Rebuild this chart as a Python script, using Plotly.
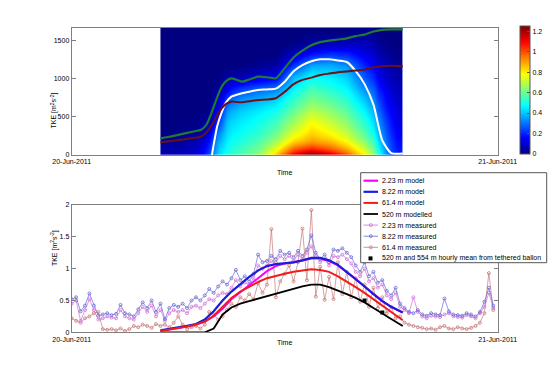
import plotly.graph_objects as go

# ---------------- data ----------------
# top panel: TKE field (time edges in hours, height edges in m)
field_t_edges = [5, 6.5, 7.5, 8, 8.5, 9, 10, 11, 12, 13, 14, 15, 16, 17, 17.5, 18, 18.65]
field_z_edges = [0, 40, 120, 220, 350, 500, 650, 800, 950, 1100, 1250, 1400, 1550, 1670]
# one column per time bin (values bottom -> top)
field_cols = [
    [0.06, 0.05, 0.03, 0.01, 0, 0, 0, 0, 0, 0, 0, 0, 0],
    [0.10, 0.09, 0.06, 0.03, 0.01, 0, 0, 0, 0, 0, 0, 0, 0],
    [0.24, 0.22, 0.18, 0.12, 0.06, 0.02, 0, 0, 0, 0, 0, 0, 0],
    [0.42, 0.40, 0.37, 0.32, 0.22, 0.14, 0.08, 0.03, 0, 0, 0, 0, 0],
    [0.50, 0.48, 0.46, 0.43, 0.40, 0.34, 0.24, 0.12, 0.04, 0, 0, 0, 0],
    [0.56, 0.54, 0.51, 0.48, 0.45, 0.41, 0.34, 0.22, 0.06, 0, 0, 0, 0],
    [0.64, 0.61, 0.57, 0.53, 0.49, 0.45, 0.38, 0.27, 0.10, 0.02, 0, 0, 0],
    [0.84, 0.76, 0.68, 0.61, 0.55, 0.49, 0.42, 0.30, 0.14, 0.04, 0, 0, 0],
    [1.10, 0.98, 0.85, 0.75, 0.67, 0.60, 0.53, 0.46, 0.38, 0.22, 0.08, 0, 0],
    [1.24, 1.06, 0.92, 0.84, 0.78, 0.70, 0.62, 0.55, 0.47, 0.36, 0.18, 0.04, 0],
    [1.14, 0.99, 0.88, 0.79, 0.72, 0.65, 0.58, 0.51, 0.45, 0.37, 0.22, 0.06, 0],
    [0.98, 0.88, 0.79, 0.71, 0.64, 0.58, 0.52, 0.46, 0.41, 0.33, 0.20, 0.07, 0],
    [0.78, 0.72, 0.65, 0.58, 0.52, 0.46, 0.40, 0.33, 0.26, 0.19, 0.13, 0.07, 0.02],
    [0.52, 0.48, 0.44, 0.39, 0.34, 0.29, 0.24, 0.19, 0.14, 0.10, 0.06, 0.03, 0],
    [0.32, 0.30, 0.28, 0.25, 0.22, 0.18, 0.15, 0.12, 0.09, 0.06, 0.03, 0.01, 0],
    [0.20, 0.18, 0.17, 0.15, 0.13, 0.11, 0.09, 0.07, 0.05, 0.03, 0.01, 0, 0],
]

line_t = [5, 5.5, 6, 6.5, 7, 7.3, 7.6, 7.9, 8.2, 8.45, 8.7, 9, 9.3, 9.6, 10, 10.5,
          11, 11.5, 12, 12.5, 13, 13.5, 14, 14.5, 15, 15.5, 16, 16.5, 17, 17.5, 18, 18.65]
green_h = [219, 240, 265, 290, 315, 330, 400, 568, 760, 896, 970, 1006, 985, 962, 990, 1027,
           1020, 1006, 1140, 1280, 1370, 1440, 1480, 1500, 1515, 1531, 1560, 1580, 1620, 1642, 1648, 1648]
darkred_h = [166, 180, 195, 210, 228, 240, 300, 394, 520, 613, 670, 700, 695, 691, 705, 722,
             728, 745, 830, 930, 985, 1015, 1050, 1068, 1085, 1095, 1108, 1120, 1150, 1165, 1172, 1160]
white_h = [None, None, None, None, None, None, None, 0, 380, 560, 690, 765, 790, 810, 830, 853,
           860, 870, 960, 1100, 1180, 1230, 1255, 1255, 1240, 1220, 1100, 930, 660, 190, 25, 20]

# bottom panel: model curves
model_t = [5, 5.5, 6, 6.5, 7, 7.5, 8, 8.5, 9, 9.5, 10, 10.5, 11, 11.5, 12, 12.5, 13, 13.5,
           14, 14.5, 15, 15.5, 16, 16.5, 17, 17.5, 18, 18.65]
model_223 = [0.02, 0.04, 0.06, 0.09, 0.12, 0.17, 0.25, 0.37, 0.52, 0.63, 0.74, 0.86, 0.96, 1.04,
             1.08, 1.10, 1.13, 1.16, 1.16, 1.12, 1.05, 0.95, 0.84, 0.72, 0.60, 0.49, 0.40, 0.31]
model_822 = [0.03, 0.05, 0.07, 0.10, 0.13, 0.20, 0.33, 0.50, 0.64, 0.76, 0.87, 0.97, 1.04, 1.07,
             1.08, 1.10, 1.13, 1.17, 1.17, 1.13, 1.06, 0.95, 0.84, 0.72, 0.60, 0.49, 0.40, 0.31]
model_614 = [0.02, 0.04, 0.06, 0.09, 0.12, 0.17, 0.26, 0.40, 0.54, 0.64, 0.72, 0.79, 0.85, 0.89,
             0.92, 0.95, 0.97, 0.99, 0.98, 0.95, 0.88, 0.80, 0.71, 0.62, 0.52, 0.42, 0.32, 0.19]
model_520 = [0, 0, 0, 0, 0, 0, 0.06, 0.28, 0.39, 0.45, 0.49, 0.53, 0.57, 0.61, 0.64, 0.68, 0.72,
             0.75, 0.75, 0.71, 0.66, 0.60, 0.54, 0.47, 0.38, 0.30, 0.21, 0.10]

# bottom panel: measurements, every 15 min from 00:00
meas_t = [i * 0.25 for i in range(96)]
meas_822 = [0.52, 0.55, 0.33, 0.42, 0.61, 0.42, 0.26, 0.28, 0.30, 0.27, 0.29, 0.43,
            0.30, 0.28, 0.25, 0.36, 0.47, 0.38, 0.50, 0.32, 0.45, 0.21, 0.38, 0.43,
            0.40, 0.45, 0.38, 0.50, 0.55, 0.50, 0.58, 0.68, 0.62, 0.72, 0.80, 0.75,
            0.85, 0.98, 0.82, 0.88, 0.80, 0.92, 1.22, 1.10, 1.12, 1.20, 1.15, 1.28,
            1.22, 1.25, 1.18, 1.28, 1.20, 1.30, 1.52, 1.25, 1.15, 1.22, 1.10, 1.30,
            1.28, 1.32, 1.25, 1.18, 1.05, 0.95, 1.10, 0.88, 0.95, 0.78, 0.82, 0.65,
            0.58, 0.70, 0.45, 0.38, 0.32, 0.30, 0.35, 0.28, 0.26, 0.30, 0.28, 0.27,
            0.53, 0.33, 0.28, 0.27, 0.26, 0.30, 0.28, 0.25, 0.32, 0.48, 0.70, 0.42]
meas_223 = [0.45, 0.50, 0.18, 0.35, 0.52, 0.35, 0.20, 0.22, 0.25, 0.23, 0.22, 0.35,
            0.25, 0.22, 0.20, 0.30, 0.40, 0.32, 0.42, 0.25, 0.35, 0.18, 0.30, 0.35,
            0.32, 0.35, 0.30, 0.40, 0.42, 0.38, 0.45, 0.52, 0.50, 0.58, 0.62, 0.60,
            0.70, 0.82, 0.72, 0.78, 0.75, 0.85, 1.05, 1.00, 1.05, 1.12, 1.10, 1.20,
            1.15, 1.20, 1.12, 1.22, 1.15, 1.25, 1.35, 1.20, 1.10, 1.15, 1.05, 1.20,
            1.18, 1.22, 1.15, 1.08, 0.95, 0.88, 1.00, 0.80, 0.85, 0.70, 0.75, 0.58,
            0.52, 0.62, 0.40, 0.35, 0.30, 0.55, 0.32, 0.25, 0.22, 0.26, 0.25, 0.24,
            0.28, 0.30, 0.25, 0.24, 0.23, 0.27, 0.25, 0.22, 0.30, 0.40, 0.62, 0.38]
meas_614 = [0.22, 0.18, 0.15, 0.22, 0.25, 0.30, 0.32, 0.05, 0.04, 0.05, 0.03, 0.06,
            0.02, 0.05, 0.10, 0.08, 0.12, 0.10, 0.07, 0.13, 0.10, 0.12, 0.08, 0.15,
            0.25, 0.12, 0.05, 0.08, 0.10, 0.06, 0.12, 0.32, 0.28, 0.20, 0.25, 0.35,
            0.45, 0.40, 0.55, 0.50, 0.60, 0.52, 0.77, 0.62, 0.75, 1.62, 0.55, 0.80,
            0.92, 1.05, 0.80, 1.10, 1.63, 0.82, 1.92, 0.56, 1.03, 0.51, 0.87, 0.52,
            1.10, 0.60, 0.95, 0.55, 0.85, 0.48, 0.75, 0.40, 0.70, 0.38, 0.55, 0.30,
            0.40, 0.22, 0.25, 0.15, 0.12, 0.10, 0.08, 0.07, 0.05, 0.06, 0.04, 0.08,
            0.10, 0.06, 0.05, 0.08, 0.06, 0.05, 0.07, 0.10, 0.15, 0.30, 0.93, 0.35]

balloon_t = [16.5, 17.5]
balloon_v = [0.50, 0.31]

day_ticks = [0, 24]
day_labels = ["20-Jun-2011", "21-Jun-2011"]

legend_names = ["2.23 m model", "8.22 m model", "61.4 m model", "520 m modelled",
                "2.23 m measured", "8.22 m measured", "61.4 m measured",
                "520 m and 554 m hourly mean from tethered ballon"]

# ---------------- styles ----------------
C_M223, C_M822, C_M614, C_M520 = "#ff00ff", "#1c1cdd", "#ee1c1c", "black"
C_O223, C_O822, C_O614 = "#d070d8", "#6a6ad0", "#c87878"
FONT = 7
W, H = 550, 373

jet = [[0, "rgb(0,0,128)"], [0.125, "rgb(0,0,255)"], [0.375, "rgb(0,255,255)"],
       [0.625, "rgb(255,255,0)"], [0.875, "rgb(255,0,0)"], [1, "rgb(128,0,0)"]]

z = [[field_cols[c][r] for c in range(len(field_cols))] for r in range(len(field_z_edges) - 1)]

fig = go.Figure()
fig.add_trace(go.Heatmap(
    x=field_t_edges, y=field_z_edges, z=z, zmin=0, zmax=1.25, zsmooth="best",
    colorscale=jet, xaxis="x", yaxis="y", showlegend=False, hoverinfo="skip",
    colorbar=dict(x=519.5 / W, xanchor="left", y=1 - 154 / H, yanchor="bottom",
                  len=127.5 / H, lenmode="fraction", thickness=10, thicknessmode="pixels",
                  outlinewidth=1, outlinecolor="#555555", ticks="inside", ticklen=3,
                  tickcolor="#555555",
                  tickvals=[0, 0.2, 0.4, 0.6, 0.8, 1, 1.2], tickfont=dict(size=FONT),
                  xpad=0, ypad=0)))
spl = dict(shape="spline", smoothing=0.6)
fig.add_trace(go.Scatter(x=line_t, y=green_h, mode="lines", line=dict(color="#1f7a32", width=2.2, **spl),
                         xaxis="x", yaxis="y", showlegend=False))
fig.add_trace(go.Scatter(x=line_t, y=white_h, mode="lines", line=dict(color="white", width=2, **spl),
                         xaxis="x", yaxis="y", showlegend=False))
fig.add_trace(go.Scatter(x=line_t, y=darkred_h, mode="lines", line=dict(color="#6a1018", width=2, **spl),
                         xaxis="x", yaxis="y", showlegend=False))

mk = dict(symbol="circle-open", size=3)
for yv, col in [(meas_614, C_O614), (meas_223, C_O223), (meas_822, C_O822)]:
    fig.add_trace(go.Scatter(x=meas_t, y=yv, mode="lines+markers", showlegend=False,
                             line=dict(color=col, width=0.7), marker=dict(color=col, line=dict(width=0.8), **mk),
                             xaxis="x2", yaxis="y2"))
for yv, col, w in [(model_520, C_M520, 1.8), (model_223, C_M223, 2), (model_822, C_M822, 2.2),
                   (model_614, C_M614, 2)]:
    fig.add_trace(go.Scatter(x=model_t, y=yv, mode="lines", showlegend=False,
                             line=dict(color=col, width=w), xaxis="x2", yaxis="y2"))
fig.add_trace(go.Scatter(x=balloon_t, y=balloon_v, mode="markers", showlegend=False,
                         marker=dict(symbol="square", size=4, color="black"),
                         xaxis="x2", yaxis="y2"))

# ---------------- legend box (compact, like the original) ----------------
lx0, lx1, ly0, ly1 = 360.7, 546.7, 172.7, 262.7
row_y = [180.7 + 11.1 * i for i in range(len(legend_names))]
keys = [("line", C_M223, 2.2), ("line", C_M822, 2.2), ("line", C_M614, 2), ("line", C_M520, 1.8),
        ("meas", C_O223, 0.8), ("meas", C_O822, 0.8), ("meas", C_O614, 0.8), ("square", "black", 0)]
shapes = [dict(type="rect", xref="paper", yref="paper", x0=lx0 / W, x1=lx1 / W,
               y0=1 - ly1 / H, y1=1 - ly0 / H, line=dict(color="#555555", width=1),
               fillcolor="white", layer="above")]
annotations = []
for (kind, col, w), name, ry in zip(keys, legend_names, row_y):
    yy = 1 - ry / H
    if kind in ("line", "meas"):
        shapes.append(dict(type="line", xref="paper", yref="paper", x0=363.5 / W, x1=378 / W,
                           y0=yy, y1=yy, line=dict(color=col, width=w), layer="above"))
    if kind == "meas":
        shapes.append(dict(type="circle", xref="paper", yref="paper",
                           x0=369.3 / W, x1=372.3 / W, y0=yy - 1.5 / H, y1=yy + 1.5 / H,
                           line=dict(color=col, width=0.8), layer="above"))
    if kind == "square":
        shapes.append(dict(type="rect", xref="paper", yref="paper",
                           x0=368.5 / W, x1=372.5 / W, y0=yy - 2 / H, y1=yy + 2 / H,
                           line=dict(color=col, width=0), fillcolor=col, layer="above"))
    annotations.append(dict(text=name, x=380 / W, y=yy, xref="paper", yref="paper",
                            xanchor="left", yanchor="middle", showarrow=False,
                            font=dict(size=FONT)))

annotations += [
    dict(text="Time", x=284.7 / W, y=1 - 172 / H, xref="paper", yref="paper",
         showarrow=False, font=dict(size=FONT)),
    dict(text="Time", x=284.7 / W, y=1 - 348 / H, xref="paper", yref="paper",
         showarrow=False, font=dict(size=FONT)),
    dict(text="TKE [m<sup>2</sup>s<sup>-2</sup>]", x=48 / W, y=1 - 91 / H,
         xref="paper", yref="paper", showarrow=False, textangle=-90, font=dict(size=FONT)),
    dict(text="TKE [m<sup>2</sup>s<sup>-2</sup>]", x=48 / W, y=1 - 268.6 / H,
         xref="paper", yref="paper", showarrow=False, textangle=-90, font=dict(size=FONT)),
]

ax_common = dict(showline=True, linecolor="#7f7f7f", linewidth=1, mirror=True, automargin=False,
                 showgrid=False, zeroline=False, tickfont=dict(size=FONT, color="black"))
yt = dict(ticks="inside", ticklen=4, tickcolor="#7f7f7f")
xdom = [71.7 / W, 497.7 / W]
fig.update_layout(
    width=W, height=H, margin=dict(l=0, r=0, t=0, b=0, pad=0, autoexpand=False), showlegend=False,
    autosize=False,
    paper_bgcolor="white", plot_bgcolor="white",
    font=dict(family="Liberation Sans, Arial, sans-serif", size=FONT, color="black"),
    xaxis=dict(domain=xdom, anchor="y", range=[0, 24], tickvals=day_ticks, ticktext=day_labels,
               ticks="", **ax_common),
    yaxis=dict(domain=[1 - 155 / H, 1 - 27.7 / H], anchor="x", range=[0, 1670],
               tickvals=[0, 500, 1000, 1500], **yt, **{**ax_common, "mirror": "ticks"}),
    xaxis2=dict(domain=xdom, anchor="y2", range=[0, 24], tickvals=day_ticks, ticktext=day_labels,
                ticks="", **ax_common),
    yaxis2=dict(domain=[1 - 332.3 / H, 1 - 205 / H], anchor="x2", range=[0, 2],
                tickvals=[0, 0.5, 1, 1.5, 2], ticktext=["0", "0.5", "1", "1.5", "2"],
                **yt, **{**ax_common, "mirror": "ticks"}),
    shapes=shapes,
    annotations=annotations,
)

fig.write_html("out.html", config={"responsive": False, "displayModeBar": False},
               post_script="document.body.style.margin='0px';document.body.style.overflow='hidden';")
